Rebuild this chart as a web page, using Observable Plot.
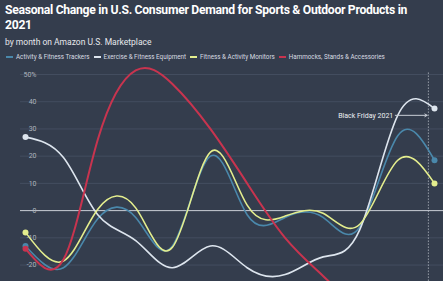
<!DOCTYPE html>
<html>
<head>
<meta charset="utf-8">
<script src="https://cdn.jsdelivr.net/npm/d3@7"></script>
<script src="https://cdn.jsdelivr.net/npm/@observablehq/plot@0.6"></script>
<style>
  html, body { margin: 0; padding: 0; background: #343d4d; overflow: hidden; width: 443px; height: 281px; }
  #header { position: relative; height: 64px; font-family: Roboto, "Noto Sans", sans-serif; color: #fff; }
  #title { position: absolute; left: 5px; top: 3px; font-size: 12.2px; letter-spacing: -0.3px; line-height: 15px; font-weight: 700; white-space: nowrap; }
  #subtitle { position: absolute; left: 5px; top: 37px; font-size: 8.5px; line-height: 10px; color: #e6e8ec; white-space: nowrap; }
  #legend { position: absolute; left: 6px; top: 53px; font-size: 6.3px; line-height: 8px; color: #d8dce2; white-space: nowrap; display: flex; }
  .item { display: flex; align-items: center; margin-right: 4px; }
  .sw { display: inline-block; width: 7px; height: 1.5px; margin-right: 3px; }
  #chart svg { display: block; }
</style>
</head>
<body>
<div id="header">
  <div id="title">Seasonal Change in U.S. Consumer Demand for Sports &amp; Outdoor Products in<br>2021</div>
  <div id="subtitle">by month on Amazon U.S. Marketplace</div>
  <div id="legend"></div>
</div>
<div id="chart"></div>
<script>
const months = ["2021-01-01","2021-02-01","2021-03-01","2021-04-01","2021-05-01","2021-06-01",
                "2021-07-01","2021-08-01","2021-09-01","2021-10-01","2021-11-01","2021-12-01"];
const seriesNames = ["Activity & Fitness Trackers", "Exercise & Fitness Equipment", "Fitness & Activity Monitors", "Hammocks, Stands & Accessories"];
const seriesColors = ["#4a88ab", "#dde5ee", "#e4ee8e", "#c8344f"];
const trackers  = [-13, -21, -3, -2.5, -13, 20, -1.5, -2.5, -2.5, -6, 27.5, 18.5];
const equipment = [27, 19.5, -1.5, -11, -21, -13, -21, -23.5, -17, -7, 35, 37.5];
const monitors  = [-8, -18.5, 0.5, 1, -13.5, 21.5, 2, -2, -1, -5, 18.5, 10];
const hammocks  = [-14, -18, 26, 51.5, 46.5, 30, 10, -10, -24, -36, -42, -40];
const yTicks = [-20, -10, 0, 10, 20, 30, 40, 50];
const annotationDate = "2021-11-26";
const annotationText = "Black Friday 2021";

const allValues = [trackers, equipment, monitors, hammocks];
const data = [];
allValues.forEach((vals, i) => vals.forEach((v, j) => data.push({series: seriesNames[i], date: new Date(months[j]), value: v})));
const ends = data.filter(d => +d.date === +new Date(months[0]) || +d.date === +new Date(months[months.length - 1]));

// legend
const legend = document.getElementById("legend");
seriesNames.forEach((n, i) => {
  const it = document.createElement("div"); it.className = "item";
  const sw = document.createElement("span"); sw.className = "sw"; sw.style.background = seriesColors[i];
  const tx = document.createElement("span"); tx.textContent = n;
  it.appendChild(sw); it.appendChild(tx); legend.appendChild(it);
});

const bf = new Date(annotationDate);
const arrowStart = d3.utcDay.offset(bf, -27);
const arrowEnd = d3.utcDay.offset(bf, -1);

const chart = Plot.plot({
  width: 443,
  height: 255,
  marginTop: 10,
  marginBottom: 0,
  marginLeft: 20,
  marginRight: 0,
  style: {background: "transparent", fontFamily: "Roboto, 'Noto Sans', sans-serif"},
  x: {type: "utc", domain: [new Date(months[0]), new Date(months[11])], insetLeft: 5, insetRight: 9, axis: null},
  y: {domain: [-40, 50], axis: null},
  color: {domain: seriesNames, range: seriesColors},
  marks: [
    Plot.ruleY(yTicks.filter(t => t !== 0), {stroke: "#485264", strokeWidth: 0.8}),
    Plot.ruleY([0], {stroke: "#c9ced6", strokeWidth: 1}),
    Plot.text(yTicks, {x: null, y: d => d, text: d => d === 50 ? "50%" : String(d), frameAnchor: "left", dx: 16, textAnchor: "end", fill: "#aeb4bd", fontSize: 7}),
    Plot.ruleX([bf], {y1: 50.5, y2: -40, stroke: "#c9ced6", strokeWidth: 1, strokeDasharray: "1,2"}),
    Plot.line(data, {x: "date", y: "value", z: "series", stroke: "series", strokeWidth: d => d.series.startsWith("Hammocks") ? 2 : 1.6, curve: "natural"}),
    Plot.dot(ends, {x: "date", y: "value", fill: "series", r: 3}),
    Plot.arrow([{x1: arrowStart, x2: arrowEnd, y: 35}], {x1: "x1", x2: "x2", y1: "y", y2: "y", stroke: "#c9ced6", strokeWidth: 1, headLength: 4}),
    Plot.text([{x: arrowStart, y: 35}], {x: "x", y: "y", text: [annotationText], textAnchor: "end", dx: -2, fill: "#eef0f3", fontSize: 7})
  ]
});
document.getElementById("chart").appendChild(chart);
</script>
</body>
</html>
